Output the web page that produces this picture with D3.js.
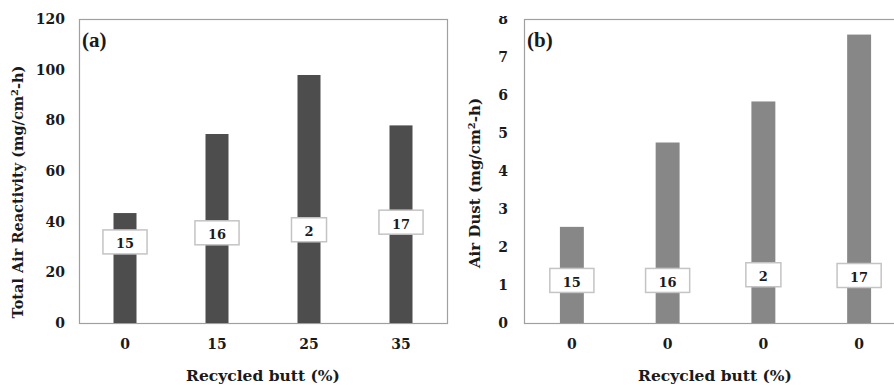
<!DOCTYPE html>
<html><head><meta charset="utf-8">
<script src="https://cdn.jsdelivr.net/npm/d3@7"></script>
<style>
html,body{margin:0;padding:0;background:#fff;overflow:hidden;}
svg{display:block;}
text{font-family:"DejaVu Serif",serif;font-weight:bold;fill:#1a1a1a;}
</style></head>
<body>
<svg id="chart" width="894" height="385"></svg>
<script>
// ---- data ----
const categoriesA = ["0", "15", "25", "35"];
const valuesA = [43.4, 74.6, 97.9, 78.0];
const boxLabelsA = ["15", "16", "2", "17"];
const boxLevelA = [32.0, 35.6, 36.8, 39.8];
const yTicksA = [0, 20, 40, 60, 80, 100, 120];

const categoriesB = ["0", "0", "0", "0"];
const valuesB = [2.53, 4.75, 5.83, 7.59];
const boxLabelsB = ["15", "16", "2", "17"];
const boxLevelB = [1.12, 1.12, 1.27, 1.25];
const yTicksB = [0, 1, 2, 3, 4, 5, 6, 7, 8];

const svg = d3.select("#chart");
svg.append("defs").append("clipPath").attr("id", "clipB")
  .append("rect").attr("x", 0).attr("y", 16).attr("width", 894).attr("height", 385);

function panel(opt) {
  const g = svg.append("g");
  if (opt.clip) g.attr("clip-path", `url(#${opt.clip})`);
  const x = d3.scaleBand().domain(d3.range(opt.cats.length)).range([opt.left, opt.right]).paddingInner(0.75).paddingOuter(0.375);
  const y = d3.scaleLinear().domain(opt.domain).range([opt.bottom, opt.top]);

  // frame
  g.append("rect").attr("x", opt.left + 0.5).attr("y", opt.top + 0.5)
    .attr("width", opt.right - opt.left).attr("height", opt.bottom - opt.top)
    .attr("fill", "none").attr("stroke", "#a0a0a0").attr("stroke-width", 1.2);

  // bars
  g.selectAll("rect.bar").data(opt.values).join("rect").attr("class", "bar")
    .attr("x", (d, i) => x(i)).attr("width", x.bandwidth())
    .attr("y", d => y(d)).attr("height", d => opt.bottom - y(d))
    .attr("fill", opt.color);

  // y axis
  const ya = d3.axisLeft(y).tickValues(opt.ticks).tickSize(0).tickPadding(opt.tickPad);
  const yg = g.append("g").attr("transform", `translate(${opt.left},0)`).call(ya);
  yg.select(".domain").remove();
  yg.selectAll("text").style("font-size", "14px").attr("fill", "#1a1a1a").style("font-family", "DejaVu Serif");

  // x axis
  const xa = d3.axisBottom(x).tickFormat(i => opt.cats[i]).tickSize(0).tickPadding(16);
  const xg = g.append("g").attr("transform", `translate(0,${opt.bottom})`).call(xa);
  xg.select(".domain").remove();
  xg.selectAll("text").style("font-size", "14px").attr("fill", "#1a1a1a").style("font-family", "DejaVu Serif");

  // label boxes
  opt.boxLabels.forEach((t, i) => {
    const cx = x(i) + x.bandwidth() / 2;
    const cy = y(opt.boxLevel[i]);
    const txt = g.append("text").attr("x", cx).attr("y", cy + 3).attr("text-anchor", "middle")
      .attr("dominant-baseline", "middle").style("font-size", "13px").text(t);
    const w = txt.node().getComputedTextLength() + 26;
    g.insert("rect", function(){ return txt.node(); })
      .attr("x", cx - w / 2).attr("y", cy - 12).attr("width", w).attr("height", 24)
      .attr("fill", "#fff").attr("stroke", "#c4c4c4").attr("stroke-width", 1.5);
  });

  // panel letter
  g.append("text").attr("x", opt.left + 3).attr("y", opt.top + 28)
    .style("font-family", "'Liberation Serif',serif").style("font-size", "21px").text(opt.letter);

  // x title
  g.append("text").attr("x", opt.titleX).attr("y", 381).attr("text-anchor", "middle")
    .style("font-size", "15.5px").text("Recycled butt (%)");

  // y title
  const yt = g.append("text").attr("transform", `translate(${opt.yTitleX},${opt.yTitleY}) rotate(-90)`)
    .attr("text-anchor", "middle").style("font-size", opt.yTitleSize + "px");
  yt.append("tspan").text(opt.yTitle[0]);
  yt.append("tspan").attr("dy", -5).style("font-size", "10px").text("2");
  yt.append("tspan").attr("dy", 5).text(opt.yTitle[1]);
}

panel({cats: categoriesA, values: valuesA, boxLabels: boxLabelsA, boxLevel: boxLevelA, ticks: yTicksA,
  domain: [0, 120], left: 79, right: 447, top: 19, bottom: 323, color: "#4d4d4d", tickPad: 14,
  letter: "(a)", titleX: 263, yTitleX: 23, yTitleY: 192, yTitleSize: 14.5, yTitle: ["Total Air Reactivity (mg/cm", "-h)"]});

panel({cats: categoriesB, values: valuesB, boxLabels: boxLabelsB, boxLevel: boxLevelB, ticks: yTicksB,
  domain: [0, 8], left: 524, right: 907, top: 19, bottom: 323, color: "#878787", tickPad: 16, clip: "clipB",
  letter: "(b)", titleX: 715, yTitleX: 480, yTitleY: 183, yTitleSize: 15, yTitle: ["Air Dust (mg/cm", "-h)"]});
</script>
</body></html>
